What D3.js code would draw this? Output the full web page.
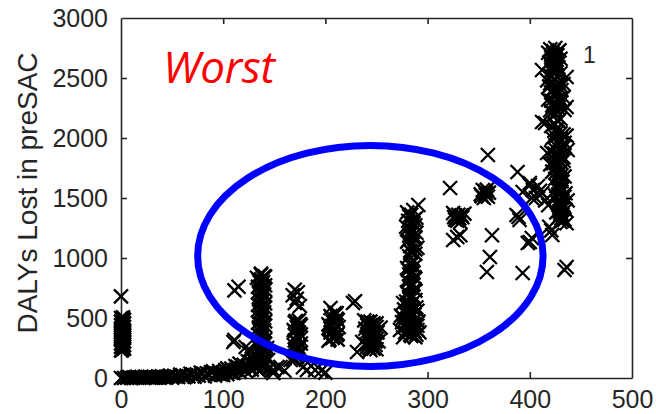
<!DOCTYPE html>
<html>
<head>
<meta charset="utf-8">
<script src="https://cdn.jsdelivr.net/npm/d3@7"></script>
<style>
  html, body { margin: 0; padding: 0; background: #fff; }
  svg { display: block; }
  .axis text { font-family: "Liberation Sans", Arial, sans-serif; font-size: 25px; fill: #262626; }
  .axis path, .axis line { stroke: #262626; stroke-width: 1.6; }
</style>
</head>
<body>
<script>
const WIDTH = 656;
const HEIGHT = 414;
const PLOT = { left: 121, right: 632, top: 18, bottom: 378 };

const xTicks = [0, 100, 200, 300, 400, 500];
const yTicks = [0, 500, 1000, 1500, 2000, 2500, 3000];

// scatter values [x, DALYs], grouped by the visible clusters
const zeroColumn = [
  [0, 0], [3, 0], [0, 680],
  [0, 230], [3, 245], [0, 260], [3, 275], [0, 290], [3, 305], [0, 320], [3, 335],
  [0, 350], [3, 365], [0, 380], [3, 395], [0, 410], [3, 425], [0, 440], [3, 455],
  [0, 470], [3, 485], [0, 500], [2, 505], [1, 240], [2, 330], [1, 420],
  [1, 232], [2, 258], [1, 283], [2, 297], [1, 313], [2, 343], [1, 358], [2, 372],
  [1, 388], [2, 403], [1, 433], [2, 448], [1, 463], [2, 478], [1, 493]
];

const bottomBand = [
  [6, 2], [10, 0], [14, 5], [18, 3], [22, 0], [26, 6], [30, 4], [34, 2], [38, 8],
  [42, 5], [46, 12], [50, 3], [52, 18], [56, 8], [60, 22], [62, 6], [66, 14],
  [70, 28], [72, 10], [76, 20], [80, 38], [82, 14], [86, 28], [88, 48], [92, 20],
  [94, 38], [96, 58], [98, 28], [100, 48], [102, 66], [104, 32], [106, 56],
  [108, 78], [110, 42], [112, 68], [114, 92], [116, 52], [118, 82], [120, 110],
  [122, 60], [124, 96], [126, 130], [128, 70], [130, 112], [149, 42], [149, 67],
  [153, 92], [156, 92], [160, 60], [166, 150], [178, 90], [182, 67], [186, 100],
  [190, 67], [196, 60], [200, 45], [110, 300], [111, 317], [122, 258], [126, 233],
  [114, 92], [125, 208],
  [8, 8], [12, 3], [16, 10], [20, 6], [24, 12], [28, 2], [32, 10], [36, 5], [40, 14],
  [44, 2], [48, 20], [54, 12], [58, 28], [64, 18], [68, 35], [74, 30], [78, 45],
  [84, 40], [90, 55], [96, 34], [100, 25], [104, 80], [108, 45], [112, 100],
  [116, 120], [120, 75], [124, 140], [128, 160], [132, 90]
];

const col110 = [[111, 730], [115, 760]];

const col137 = [
  [135, 60], [139, 85], [137, 110], [141, 135], [134, 160], [138, 185], [135, 210],
  [139, 235], [137, 260], [141, 285], [134, 310], [138, 335], [135, 360], [139, 385],
  [137, 410], [141, 435], [134, 460], [138, 485], [135, 510], [139, 535], [137, 560],
  [141, 585], [134, 610], [138, 635], [135, 660], [139, 685], [137, 710], [141, 735],
  [134, 760], [138, 785], [135, 810], [139, 835], [137, 860],
  [137, 870], [133, 835], [141, 845], [139, 800],
  [131, 120], [144, 150], [130, 200], [145, 80], [143, 250], [132, 300],
  [137, 72], [140, 97], [135, 122], [138, 147], [141, 172], [136, 197], [137, 222],
  [140, 247], [135, 272], [138, 297], [141, 322], [136, 347], [137, 372], [140, 397],
  [135, 422], [138, 447], [141, 472], [136, 497], [137, 522], [140, 547], [135, 572],
  [138, 597], [141, 622], [136, 647], [137, 672], [140, 697], [135, 722], [138, 747],
  [141, 772], [136, 797], [137, 822], [140, 848]
];

const col172 = [
  [170, 735], [173, 715], [168, 690], [172, 660], [170, 625], [175, 600],
  [169, 150], [172, 175], [175, 200], [171, 225], [174, 250], [169, 275], [172, 300],
  [175, 325], [171, 350], [174, 375], [169, 400], [172, 425], [175, 450], [171, 475],
  [170, 162], [173, 187], [176, 212], [170, 237], [173, 262], [176, 287], [170, 312],
  [173, 337], [176, 362], [170, 387], [173, 412], [176, 437], [170, 462], [174, 480]
];

const col208 = [
  [205, 583], [211, 541], [227, 625],
  [203, 310], [207, 333], [211, 356], [205, 379], [209, 402], [213, 425],
  [203, 448], [207, 471], [211, 494], [205, 517], [209, 540], [212, 320], [206, 430],
  [204, 320], [208, 345], [212, 368], [206, 390], [210, 414], [204, 437], [208, 460],
  [212, 482], [206, 505], [210, 528]
];

const col245 = [
  [238, 480], [244, 470], [250, 455], [241, 440], [247, 425], [239, 410], [245, 395],
  [251, 380], [242, 365], [248, 350], [240, 335], [246, 320], [252, 305], [243, 290],
  [249, 275], [241, 260], [247, 245], [244, 232], [250, 240], [231, 217], [229, 640],
  [236, 300], [254, 420],
  [241, 470], [247, 455], [244, 440], [250, 425], [242, 395], [248, 380], [245, 365],
  [241, 350], [247, 335], [243, 320], [249, 305], [245, 290], [240, 280], [246, 262],
  [243, 250]
];

const col283 = [
  [291, 1442], [286, 1400], [280, 1380], [284, 1360], [289, 1335], [281, 1310],
  [286, 1285], [279, 1260], [284, 1235], [289, 1210], [282, 1185], [287, 1160],
  [280, 1135], [285, 1110], [290, 1085], [283, 1060], [288, 1035], [286, 983],
  [280, 917], [285, 890], [282, 865], [287, 840], [280, 815], [285, 790], [282, 765],
  [287, 740], [280, 715], [285, 690], [282, 675], [288, 650],
  [276, 625], [281, 600], [286, 575], [290, 560], [278, 540], [283, 515], [288, 490],
  [275, 465], [280, 440], [285, 420], [290, 400], [278, 380], [283, 360], [288, 340],
  [276, 340], [273, 400], [292, 380], [274, 520], [291, 470],
  [282, 1348], [287, 1322], [283, 1298], [288, 1272], [281, 1248], [286, 1222],
  [283, 1198], [288, 1172], [281, 1148], [286, 1122], [283, 1098], [288, 1072],
  [284, 1048], [282, 1015], [284, 960], [283, 940], [287, 930], [281, 900],
  [286, 878], [283, 852], [288, 828], [281, 802], [286, 778], [283, 752], [288, 728],
  [281, 702], [286, 680], [283, 662], [279, 638], [284, 612], [289, 588], [277, 572],
  [282, 552], [287, 528], [276, 502], [281, 478], [286, 455], [290, 435], [277, 428],
  [282, 410], [287, 390], [279, 370], [284, 350], [289, 360]
];

const col328 = [
  [322, 1583], [325, 1375], [330, 1360], [334, 1340], [327, 1320], [332, 1300],
  [328, 1345], [325, 1150], [329, 1175], [332, 1190], [336, 1370],
  [327, 1355], [331, 1330], [329, 1310], [333, 1355], [326, 1340]
];

const col358 = [
  [359, 1858], [354, 1567], [357, 1540], [359, 1510], [355, 1500], [358, 1570],
  [352, 1530], [363, 1190], [361, 1008], [358, 883],
  [356, 1555], [353, 1515], [357, 1525], [360, 1545]
];

const col395 = [
  [388, 1717], [400, 1608], [393, 1550], [402, 1500], [387, 1358], [390, 1317],
  [398, 1125], [393, 875], [389, 1342], [400, 1133]
];

const col428 = [
  [420, 2740], [425, 2750], [429, 2730], [418, 2710], [423, 2700], [427, 2690],
  [421, 2670], [426, 2650], [430, 2660], [419, 2630], [424, 2610], [428, 2590],
  [422, 2570], [426, 2550], [420, 2520], [430, 2540], [412, 2567], [436, 2508],
  [417, 2480], [422, 2470], [428, 2460], [433, 2450], [419, 2430], [425, 2420],
  [431, 2400], [421, 2380], [427, 2360], [433, 2340], [418, 2320], [424, 2300],
  [430, 2290], [422, 2270], [428, 2250], [434, 2233], [420, 2230], [436, 2258],
  [415, 2125], [412, 2133], [425, 2200], [430, 2160], [421, 2100], [427, 2080],
  [424, 2060], [430, 2040], [436, 2020], [422, 2000], [428, 1980], [434, 1960],
  [425, 1940], [431, 1920], [437, 1900],
  [421, 1880], [427, 1860], [433, 1840], [424, 1820], [430, 1800], [420, 1780],
  [426, 1760], [432, 1740], [422, 1720], [428, 1700], [434, 1680], [425, 1660],
  [431, 1640], [417, 1875],
  [426, 1600], [432, 1580], [428, 1560], [435, 1540], [425, 1520], [431, 1500],
  [437, 1480], [427, 1460], [433, 1440], [429, 1420], [435, 1400], [426, 1380],
  [432, 1360], [428, 1340], [434, 1320], [430, 1300], [436, 1290],
  [400, 1625], [403, 1567], [406, 1500], [402, 1167], [422, 1192], [436, 925],
  [434, 900], [410, 1560], [415, 1480], [418, 1440], [408, 1600], [412, 1540],
  [419, 1260], [421, 1230],
  [423, 2725], [427, 2715], [421, 2690], [425, 2675], [423, 2640], [427, 2620],
  [421, 2600], [425, 2580], [423, 2545], [427, 2510], [425, 2490], [420, 2455],
  [430, 2440], [423, 2410], [428, 2390], [424, 2370], [429, 2330], [421, 2310],
  [427, 2280], [425, 2240], [423, 2180], [428, 2140], [424, 2120], [427, 2050],
  [433, 2030], [425, 2010], [431, 1990], [428, 1950], [434, 1930], [424, 1910],
  [430, 1890], [424, 1870], [430, 1850], [427, 1830], [433, 1810], [423, 1790],
  [429, 1770], [425, 1750], [431, 1730], [425, 1710], [431, 1690], [428, 1670],
  [429, 1610], [430, 1590], [431, 1550], [428, 1530], [434, 1510], [430, 1470],
  [430, 1450], [431, 1430], [432, 1410], [429, 1390], [430, 1370], [431, 1330],
  [432, 1310]
];

// highlighted region (data units): centre and radii
const ellipseCenter = [244, 1017];
const ellipseRadii = [169, 921];

const points = [].concat(
  zeroColumn, bottomBand, col110, col137, col172, col208, col245,
  col283, col328, col358, col395, col428
);

const x = d3.scaleLinear().domain([0, 500]).range([PLOT.left, PLOT.right]);
const y = d3.scaleLinear().domain([0, 3000]).range([PLOT.bottom, PLOT.top]);

const svg = d3.select("body").append("svg")
  .attr("width", WIDTH)
  .attr("height", HEIGHT);

// axes box with inward ticks
svg.append("g")
  .attr("class", "axis")
  .attr("transform", `translate(0,${PLOT.bottom})`)
  .call(d3.axisBottom(x).tickValues(xTicks).tickSize(-6).tickSizeOuter(0)
    .tickPadding(12).tickFormat(d3.format("d")));

svg.append("g")
  .attr("class", "axis")
  .attr("transform", `translate(0,${PLOT.top})`)
  .call(d3.axisTop(x).tickValues(xTicks).tickSize(-6).tickSizeOuter(0).tickFormat(""));

svg.append("g")
  .attr("class", "axis")
  .attr("transform", `translate(${PLOT.left},0)`)
  .call(d3.axisLeft(y).tickValues(yTicks).tickSize(-6).tickSizeOuter(0)
    .tickPadding(13).tickFormat(d3.format("d")));

svg.append("g")
  .attr("class", "axis")
  .attr("transform", `translate(${PLOT.right},0)`)
  .call(d3.axisRight(y).tickValues(yTicks).tickSize(-6).tickSizeOuter(0).tickFormat(""));

// remove tick marks at the box corners
svg.selectAll(".axis .tick line")
  .filter(d => d === 0 || d === 500 || d === 3000)
  .remove();

// markers
const R = 7;
svg.append("g")
  .selectAll("path")
  .data(points)
  .join("path")
  .attr("d", d => {
    const cx = x(d[0]);
    const cy = y(d[1]);
    return `M${cx - R},${cy - R}L${cx + R},${cy + R}M${cx - R},${cy + R}L${cx + R},${cy - R}`;
  })
  .attr("stroke", "#000")
  .attr("stroke-width", 2.3)
  .attr("fill", "none");

// ellipse annotation
svg.append("ellipse")
  .attr("cx", x(ellipseCenter[0]))
  .attr("cy", y(ellipseCenter[1]))
  .attr("rx", x(ellipseCenter[0] + ellipseRadii[0]) - x(ellipseCenter[0]))
  .attr("ry", y(ellipseCenter[1]) - y(ellipseCenter[1] + ellipseRadii[1]))
  .attr("fill", "none")
  .attr("stroke", "#0000ff")
  .attr("stroke-width", 7);

svg.append("text")
  .attr("x", 163)
  .attr("y", 83)
  .attr("font-family", "'Open Sans', sans-serif")
  .attr("font-style", "italic")
  .attr("font-size", 44)
  .attr("textLength", 112)
  .attr("fill", "#ff0000")
  .text("Worst");

svg.append("text")
  .attr("x", 583)
  .attr("y", 63)
  .attr("font-family", "'Liberation Sans', Arial, sans-serif")
  .attr("font-size", 23)
  .attr("fill", "#262626")
  .text("1");

svg.append("text")
  .attr("transform", "translate(37,193) rotate(-90)")
  .attr("text-anchor", "middle")
  .attr("font-family", "'Liberation Sans', Arial, sans-serif")
  .attr("font-size", 28)
  .attr("fill", "#262626")
  .text("DALYs Lost in preSAC");
</script>
</body>
</html>
